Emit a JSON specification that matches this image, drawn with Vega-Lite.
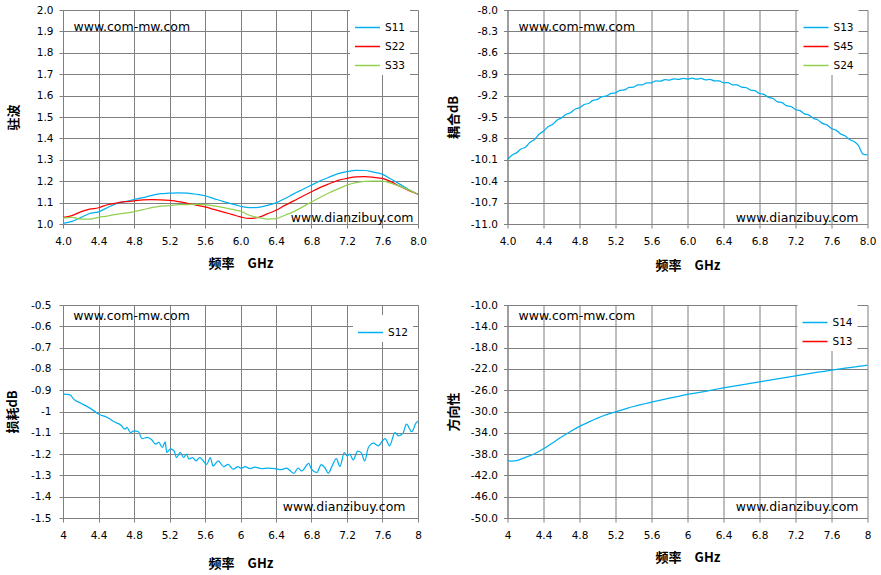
{
  "$schema": "https://vega.github.io/schema/vega-lite/v6.json",
  "background": "white",
  "padding": {"left": 6, "top": 5, "right": 0, "bottom": 0},
  "columns": 2,
  "spacing": {"row": 81, "column": 89.5},
  "bounds": "flush",
  "resolve": {
    "scale": {"x": "independent", "y": "independent", "color": "independent"},
    "legend": {"color": "independent"}
  },
  "datasets": {
    "vswr": [
      {"f": 4.0, "s": "S11", "v": 1.003}, {"f": 4.1, "s": "S11", "v": 1.012}, {"f": 4.2, "s": "S11", "v": 1.030}, {"f": 4.3, "s": "S11", "v": 1.049},
      {"f": 4.4, "s": "S11", "v": 1.057}, {"f": 4.5, "s": "S11", "v": 1.076}, {"f": 4.6, "s": "S11", "v": 1.095}, {"f": 4.7, "s": "S11", "v": 1.105},
      {"f": 4.8, "s": "S11", "v": 1.114}, {"f": 4.9, "s": "S11", "v": 1.123}, {"f": 5.0, "s": "S11", "v": 1.134}, {"f": 5.1, "s": "S11", "v": 1.142},
      {"f": 5.2, "s": "S11", "v": 1.144}, {"f": 5.3, "s": "S11", "v": 1.146}, {"f": 5.4, "s": "S11", "v": 1.144}, {"f": 5.5, "s": "S11", "v": 1.139},
      {"f": 5.6, "s": "S11", "v": 1.132}, {"f": 5.7, "s": "S11", "v": 1.119}, {"f": 5.8, "s": "S11", "v": 1.106}, {"f": 5.9, "s": "S11", "v": 1.094},
      {"f": 6.0, "s": "S11", "v": 1.083}, {"f": 6.1, "s": "S11", "v": 1.076}, {"f": 6.2, "s": "S11", "v": 1.078}, {"f": 6.3, "s": "S11", "v": 1.087},
      {"f": 6.4, "s": "S11", "v": 1.099}, {"f": 6.5, "s": "S11", "v": 1.119}, {"f": 6.6, "s": "S11", "v": 1.141}, {"f": 6.7, "s": "S11", "v": 1.161},
      {"f": 6.8, "s": "S11", "v": 1.182}, {"f": 6.9, "s": "S11", "v": 1.202}, {"f": 7.0, "s": "S11", "v": 1.219}, {"f": 7.1, "s": "S11", "v": 1.235},
      {"f": 7.2, "s": "S11", "v": 1.245}, {"f": 7.3, "s": "S11", "v": 1.251}, {"f": 7.4, "s": "S11", "v": 1.250}, {"f": 7.5, "s": "S11", "v": 1.242},
      {"f": 7.6, "s": "S11", "v": 1.232}, {"f": 7.7, "s": "S11", "v": 1.209}, {"f": 7.8, "s": "S11", "v": 1.185}, {"f": 7.9, "s": "S11", "v": 1.160},
      {"f": 8.0, "s": "S11", "v": 1.139},
      {"f": 4.0, "s": "S22", "v": 1.031}, {"f": 4.1, "s": "S22", "v": 1.039}, {"f": 4.2, "s": "S22", "v": 1.057}, {"f": 4.3, "s": "S22", "v": 1.069},
      {"f": 4.4, "s": "S22", "v": 1.076}, {"f": 4.5, "s": "S22", "v": 1.090}, {"f": 4.6, "s": "S22", "v": 1.098}, {"f": 4.7, "s": "S22", "v": 1.104},
      {"f": 4.8, "s": "S22", "v": 1.108}, {"f": 4.9, "s": "S22", "v": 1.113}, {"f": 5.0, "s": "S22", "v": 1.114}, {"f": 5.1, "s": "S22", "v": 1.113},
      {"f": 5.2, "s": "S22", "v": 1.110}, {"f": 5.3, "s": "S22", "v": 1.105}, {"f": 5.4, "s": "S22", "v": 1.097}, {"f": 5.5, "s": "S22", "v": 1.088},
      {"f": 5.6, "s": "S22", "v": 1.080}, {"f": 5.7, "s": "S22", "v": 1.068}, {"f": 5.8, "s": "S22", "v": 1.057}, {"f": 5.9, "s": "S22", "v": 1.045},
      {"f": 6.0, "s": "S22", "v": 1.033}, {"f": 6.1, "s": "S22", "v": 1.026}, {"f": 6.2, "s": "S22", "v": 1.031}, {"f": 6.3, "s": "S22", "v": 1.047},
      {"f": 6.4, "s": "S22", "v": 1.064}, {"f": 6.5, "s": "S22", "v": 1.087}, {"f": 6.6, "s": "S22", "v": 1.108}, {"f": 6.7, "s": "S22", "v": 1.130},
      {"f": 6.8, "s": "S22", "v": 1.151}, {"f": 6.9, "s": "S22", "v": 1.171}, {"f": 7.0, "s": "S22", "v": 1.188}, {"f": 7.1, "s": "S22", "v": 1.204},
      {"f": 7.2, "s": "S22", "v": 1.213}, {"f": 7.3, "s": "S22", "v": 1.220}, {"f": 7.4, "s": "S22", "v": 1.221}, {"f": 7.5, "s": "S22", "v": 1.218},
      {"f": 7.6, "s": "S22", "v": 1.213}, {"f": 7.7, "s": "S22", "v": 1.197}, {"f": 7.8, "s": "S22", "v": 1.175}, {"f": 7.9, "s": "S22", "v": 1.156},
      {"f": 8.0, "s": "S22", "v": 1.139},
      {"f": 4.0, "s": "S33", "v": 1.028}, {"f": 4.1, "s": "S33", "v": 1.031}, {"f": 4.2, "s": "S33", "v": 1.023}, {"f": 4.3, "s": "S33", "v": 1.023},
      {"f": 4.4, "s": "S33", "v": 1.031}, {"f": 4.5, "s": "S33", "v": 1.037}, {"f": 4.6, "s": "S33", "v": 1.045}, {"f": 4.7, "s": "S33", "v": 1.051},
      {"f": 4.8, "s": "S33", "v": 1.058}, {"f": 4.9, "s": "S33", "v": 1.067}, {"f": 5.0, "s": "S33", "v": 1.076}, {"f": 5.1, "s": "S33", "v": 1.084},
      {"f": 5.2, "s": "S33", "v": 1.086}, {"f": 5.3, "s": "S33", "v": 1.090}, {"f": 5.4, "s": "S33", "v": 1.091}, {"f": 5.5, "s": "S33", "v": 1.092},
      {"f": 5.6, "s": "S33", "v": 1.090}, {"f": 5.7, "s": "S33", "v": 1.085}, {"f": 5.8, "s": "S33", "v": 1.078}, {"f": 5.9, "s": "S33", "v": 1.069},
      {"f": 6.0, "s": "S33", "v": 1.060}, {"f": 6.1, "s": "S33", "v": 1.041}, {"f": 6.2, "s": "S33", "v": 1.030}, {"f": 6.3, "s": "S33", "v": 1.023},
      {"f": 6.4, "s": "S33", "v": 1.025}, {"f": 6.5, "s": "S33", "v": 1.041}, {"f": 6.6, "s": "S33", "v": 1.058}, {"f": 6.7, "s": "S33", "v": 1.080},
      {"f": 6.8, "s": "S33", "v": 1.103}, {"f": 6.9, "s": "S33", "v": 1.125}, {"f": 7.0, "s": "S33", "v": 1.146}, {"f": 7.1, "s": "S33", "v": 1.164},
      {"f": 7.2, "s": "S33", "v": 1.182}, {"f": 7.3, "s": "S33", "v": 1.193}, {"f": 7.4, "s": "S33", "v": 1.199}, {"f": 7.5, "s": "S33", "v": 1.200},
      {"f": 7.6, "s": "S33", "v": 1.200}, {"f": 7.7, "s": "S33", "v": 1.190}, {"f": 7.8, "s": "S33", "v": 1.176}, {"f": 7.9, "s": "S33", "v": 1.158},
      {"f": 8.0, "s": "S33", "v": 1.139}
    ],
    "coupling": [
      {"f": 4.0, "s": "S13", "v": -10.097}, {"f": 4.05, "s": "S13", "v": -10.035}, {"f": 4.1, "s": "S13", "v": -10.003}, {"f": 4.15, "s": "S13", "v": -9.949},
      {"f": 4.2, "s": "S13", "v": -9.924}, {"f": 4.25, "s": "S13", "v": -9.855}, {"f": 4.3, "s": "S13", "v": -9.816}, {"f": 4.35, "s": "S13", "v": -9.743},
      {"f": 4.4, "s": "S13", "v": -9.700}, {"f": 4.45, "s": "S13", "v": -9.638}, {"f": 4.5, "s": "S13", "v": -9.605}, {"f": 4.55, "s": "S13", "v": -9.544},
      {"f": 4.6, "s": "S13", "v": -9.512}, {"f": 4.65, "s": "S13", "v": -9.462}, {"f": 4.7, "s": "S13", "v": -9.441}, {"f": 4.75, "s": "S13", "v": -9.391},
      {"f": 4.8, "s": "S13", "v": -9.371}, {"f": 4.85, "s": "S13", "v": -9.326}, {"f": 4.9, "s": "S13", "v": -9.310}, {"f": 4.95, "s": "S13", "v": -9.267},
      {"f": 5.0, "s": "S13", "v": -9.254}, {"f": 5.05, "s": "S13", "v": -9.215}, {"f": 5.1, "s": "S13", "v": -9.205}, {"f": 5.15, "s": "S13", "v": -9.168},
      {"f": 5.2, "s": "S13", "v": -9.161}, {"f": 5.25, "s": "S13", "v": -9.126}, {"f": 5.3, "s": "S13", "v": -9.120}, {"f": 5.35, "s": "S13", "v": -9.086},
      {"f": 5.4, "s": "S13", "v": -9.081}, {"f": 5.45, "s": "S13", "v": -9.051}, {"f": 5.5, "s": "S13", "v": -9.050}, {"f": 5.55, "s": "S13", "v": -9.020},
      {"f": 5.6, "s": "S13", "v": -9.020}, {"f": 5.65, "s": "S13", "v": -8.994}, {"f": 5.7, "s": "S13", "v": -8.998}, {"f": 5.75, "s": "S13", "v": -8.976},
      {"f": 5.8, "s": "S13", "v": -8.983}, {"f": 5.85, "s": "S13", "v": -8.964}, {"f": 5.9, "s": "S13", "v": -8.974}, {"f": 5.95, "s": "S13", "v": -8.957},
      {"f": 6.0, "s": "S13", "v": -8.969}, {"f": 6.05, "s": "S13", "v": -8.955}, {"f": 6.1, "s": "S13", "v": -8.970}, {"f": 6.15, "s": "S13", "v": -8.959},
      {"f": 6.2, "s": "S13", "v": -8.978}, {"f": 6.25, "s": "S13", "v": -8.972}, {"f": 6.3, "s": "S13", "v": -8.995}, {"f": 6.35, "s": "S13", "v": -8.993},
      {"f": 6.4, "s": "S13", "v": -9.020}, {"f": 6.45, "s": "S13", "v": -9.019}, {"f": 6.5, "s": "S13", "v": -9.048}, {"f": 6.55, "s": "S13", "v": -9.050},
      {"f": 6.6, "s": "S13", "v": -9.081}, {"f": 6.65, "s": "S13", "v": -9.087}, {"f": 6.7, "s": "S13", "v": -9.122}, {"f": 6.75, "s": "S13", "v": -9.131},
      {"f": 6.8, "s": "S13", "v": -9.170}, {"f": 6.85, "s": "S13", "v": -9.183}, {"f": 6.9, "s": "S13", "v": -9.225}, {"f": 6.95, "s": "S13", "v": -9.241},
      {"f": 7.0, "s": "S13", "v": -9.287}, {"f": 7.05, "s": "S13", "v": -9.299}, {"f": 7.1, "s": "S13", "v": -9.340}, {"f": 7.15, "s": "S13", "v": -9.353},
      {"f": 7.2, "s": "S13", "v": -9.395}, {"f": 7.25, "s": "S13", "v": -9.411}, {"f": 7.3, "s": "S13", "v": -9.456}, {"f": 7.35, "s": "S13", "v": -9.474},
      {"f": 7.4, "s": "S13", "v": -9.521}, {"f": 7.45, "s": "S13", "v": -9.541}, {"f": 7.5, "s": "S13", "v": -9.590}, {"f": 7.55, "s": "S13", "v": -9.611},
      {"f": 7.6, "s": "S13", "v": -9.661}, {"f": 7.65, "s": "S13", "v": -9.684}, {"f": 7.7, "s": "S13", "v": -9.737}, {"f": 7.75, "s": "S13", "v": -9.762},
      {"f": 7.8, "s": "S13", "v": -9.816}, {"f": 7.85, "s": "S13", "v": -9.843}, {"f": 7.9, "s": "S13", "v": -9.900}, {"f": 7.95, "s": "S13", "v": -10.020},
      {"f": 8.0, "s": "S13", "v": -10.030}
    ],
    "loss": [
      {"f": 4.00, "s": "S12", "v": -0.918}, {"f": 4.08, "s": "S12", "v": -0.922}, {"f": 4.12, "s": "S12", "v": -0.942}, {"f": 4.20, "s": "S12", "v": -0.961},
      {"f": 4.27, "s": "S12", "v": -0.976}, {"f": 4.35, "s": "S12", "v": -0.997}, {"f": 4.40, "s": "S12", "v": -1.012}, {"f": 4.50, "s": "S12", "v": -1.028},
      {"f": 4.57, "s": "S12", "v": -1.047}, {"f": 4.65, "s": "S12", "v": -1.063}, {"f": 4.70, "s": "S12", "v": -1.083}, {"f": 4.72, "s": "S12", "v": -1.075},
      {"f": 4.76, "s": "S12", "v": -1.099}, {"f": 4.80, "s": "S12", "v": -1.091}, {"f": 4.85, "s": "S12", "v": -1.095}, {"f": 4.89, "s": "S12", "v": -1.127},
      {"f": 4.95, "s": "S12", "v": -1.122}, {"f": 5.00, "s": "S12", "v": -1.133}, {"f": 5.04, "s": "S12", "v": -1.153}, {"f": 5.08, "s": "S12", "v": -1.145},
      {"f": 5.12, "s": "S12", "v": -1.169}, {"f": 5.15, "s": "S12", "v": -1.143}, {"f": 5.17, "s": "S12", "v": -1.192}, {"f": 5.21, "s": "S12", "v": -1.176},
      {"f": 5.25, "s": "S12", "v": -1.184}, {"f": 5.28, "s": "S12", "v": -1.216}, {"f": 5.32, "s": "S12", "v": -1.192}, {"f": 5.36, "s": "S12", "v": -1.216},
      {"f": 5.39, "s": "S12", "v": -1.200}, {"f": 5.42, "s": "S12", "v": -1.224}, {"f": 5.46, "s": "S12", "v": -1.216}, {"f": 5.50, "s": "S12", "v": -1.232},
      {"f": 5.54, "s": "S12", "v": -1.216}, {"f": 5.62, "s": "S12", "v": -1.248}, {"f": 5.66, "s": "S12", "v": -1.216}, {"f": 5.69, "s": "S12", "v": -1.256},
      {"f": 5.75, "s": "S12", "v": -1.232}, {"f": 5.81, "s": "S12", "v": -1.259}, {"f": 5.86, "s": "S12", "v": -1.248}, {"f": 5.92, "s": "S12", "v": -1.271},
      {"f": 5.97, "s": "S12", "v": -1.259}, {"f": 6.01, "s": "S12", "v": -1.266}, {"f": 6.05, "s": "S12", "v": -1.259}, {"f": 6.11, "s": "S12", "v": -1.268},
      {"f": 6.16, "s": "S12", "v": -1.261}, {"f": 6.24, "s": "S12", "v": -1.268}, {"f": 6.31, "s": "S12", "v": -1.266}, {"f": 6.39, "s": "S12", "v": -1.268},
      {"f": 6.46, "s": "S12", "v": -1.273}, {"f": 6.52, "s": "S12", "v": -1.266}, {"f": 6.55, "s": "S12", "v": -1.275}, {"f": 6.60, "s": "S12", "v": -1.290},
      {"f": 6.65, "s": "S12", "v": -1.266}, {"f": 6.69, "s": "S12", "v": -1.279}, {"f": 6.77, "s": "S12", "v": -1.243}, {"f": 6.80, "s": "S12", "v": -1.271},
      {"f": 6.86, "s": "S12", "v": -1.287}, {"f": 6.91, "s": "S12", "v": -1.249}, {"f": 6.95, "s": "S12", "v": -1.263}, {"f": 6.99, "s": "S12", "v": -1.290},
      {"f": 7.03, "s": "S12", "v": -1.258}, {"f": 7.08, "s": "S12", "v": -1.221}, {"f": 7.12, "s": "S12", "v": -1.258}, {"f": 7.17, "s": "S12", "v": -1.193},
      {"f": 7.20, "s": "S12", "v": -1.208}, {"f": 7.23, "s": "S12", "v": -1.200}, {"f": 7.27, "s": "S12", "v": -1.227}, {"f": 7.32, "s": "S12", "v": -1.186},
      {"f": 7.36, "s": "S12", "v": -1.193}, {"f": 7.40, "s": "S12", "v": -1.232}, {"f": 7.44, "s": "S12", "v": -1.170}, {"f": 7.50, "s": "S12", "v": -1.149},
      {"f": 7.55, "s": "S12", "v": -1.161}, {"f": 7.63, "s": "S12", "v": -1.127}, {"f": 7.68, "s": "S12", "v": -1.161}, {"f": 7.74, "s": "S12", "v": -1.099},
      {"f": 7.78, "s": "S12", "v": -1.114}, {"f": 7.83, "s": "S12", "v": -1.103}, {"f": 7.87, "s": "S12", "v": -1.059}, {"f": 7.93, "s": "S12", "v": -1.095},
      {"f": 7.98, "s": "S12", "v": -1.052}, {"f": 8.00, "s": "S12", "v": -1.046}
    ],
    "directivity": [
      {"f": 4.0, "s": "S14", "v": -39.19}, {"f": 4.05, "s": "S14", "v": -39.31}, {"f": 4.1, "s": "S14", "v": -39.22}, {"f": 4.2, "s": "S14", "v": -38.6},
      {"f": 4.3, "s": "S14", "v": -37.94}, {"f": 4.4, "s": "S14", "v": -37.0}, {"f": 4.5, "s": "S14", "v": -35.9}, {"f": 4.6, "s": "S14", "v": -34.8},
      {"f": 4.7, "s": "S14", "v": -33.75}, {"f": 4.8, "s": "S14", "v": -32.8}, {"f": 4.9, "s": "S14", "v": -32.0}, {"f": 5.0, "s": "S14", "v": -31.25},
      {"f": 5.1, "s": "S14", "v": -30.6}, {"f": 5.2, "s": "S14", "v": -30.06}, {"f": 5.3, "s": "S14", "v": -29.55}, {"f": 5.4, "s": "S14", "v": -29.06},
      {"f": 5.5, "s": "S14", "v": -28.64}, {"f": 5.6, "s": "S14", "v": -28.25}, {"f": 5.7, "s": "S14", "v": -27.87}, {"f": 5.8, "s": "S14", "v": -27.5},
      {"f": 5.9, "s": "S14", "v": -27.14}, {"f": 6.0, "s": "S14", "v": -26.8}, {"f": 6.1, "s": "S14", "v": -26.5}, {"f": 6.2, "s": "S14", "v": -26.2},
      {"f": 6.3, "s": "S14", "v": -25.87}, {"f": 6.4, "s": "S14", "v": -25.56}, {"f": 6.5, "s": "S14", "v": -25.28}, {"f": 6.6, "s": "S14", "v": -25.0},
      {"f": 6.7, "s": "S14", "v": -24.72}, {"f": 6.8, "s": "S14", "v": -24.44}, {"f": 6.9, "s": "S14", "v": -24.16}, {"f": 7.0, "s": "S14", "v": -23.88},
      {"f": 7.1, "s": "S14", "v": -23.6}, {"f": 7.2, "s": "S14", "v": -23.31}, {"f": 7.3, "s": "S14", "v": -23.03}, {"f": 7.4, "s": "S14", "v": -22.75},
      {"f": 7.5, "s": "S14", "v": -22.5}, {"f": 7.6, "s": "S14", "v": -22.25}, {"f": 7.7, "s": "S14", "v": -22.0}, {"f": 7.8, "s": "S14", "v": -21.75},
      {"f": 7.9, "s": "S14", "v": -21.53}, {"f": 8.0, "s": "S14", "v": -21.31}
    ]
  },
  "concat": [
    {
      "width": 355,
      "height": 214,
      "resolve": {"axis": {"x": "independent", "y": "independent"}},
      "layer": [
        {
          "data": {"name": "vswr"},
          "mark": {"type": "line", "strokeWidth": 1.25, "interpolate": "monotone"},
          "encoding": {
            "x": {
              "field": "f", "type": "quantitative",
              "scale": {"domain": [4, 8], "nice": false, "zero": false},
              "axis": {"values": [4, 4.4, 4.8, 5.2, 5.6, 6, 6.4, 6.8, 7.2, 7.6, 8], "format": ".1f", "title": "频率　GHz", "titlePadding": 11}
            },
            "y": {
              "field": "v", "type": "quantitative",
              "scale": {"domain": [1, 2], "nice": false, "zero": false},
              "axis": {"values": [1, 1.1, 1.2, 1.3, 1.4, 1.5, 1.6, 1.7, 1.8, 1.9, 2], "format": ".1f", "title": "驻波", "titlePadding": 16}
            },
            "color": {
              "field": "s", "type": "nominal",
              "scale": {"domain": ["S11", "S22", "S33"], "range": ["#00B0F0", "#FF0000", "#92D050"]},
              "legend": {"title": null, "orient": "none", "legendX": 287, "legendY": 0}
            }
          }
        },
        {
          "data": {"values": [{"label": "www.com-mw.com"}]},
          "mark": {"type": "text", "align": "left", "baseline": "middle", "font": "DejaVu Sans", "fontSize": 12.5, "color": "#000"},
          "encoding": {
            "x": {"datum": 4.118, "type": "quantitative", "axis": null},
            "y": {"datum": 1.921, "type": "quantitative", "axis": null},
            "text": {"field": "label"}
          }
        },
        {
          "data": {"values": [{"label": "www.dianzibuy.com"}]},
          "mark": {"type": "text", "align": "right", "baseline": "middle", "font": "DejaVu Sans", "fontSize": 12.5, "color": "#000"},
          "encoding": {
            "x": {"datum": 7.949, "type": "quantitative", "axis": null},
            "y": {"datum": 1.027, "type": "quantitative", "axis": null},
            "text": {"field": "label"}
          }
        }
      ]
    },
    {
      "width": 360,
      "height": 214,
      "resolve": {"axis": {"x": "independent", "y": "independent"}},
      "layer": [
        {
          "data": {"name": "coupling"},
          "mark": {"type": "line", "strokeWidth": 1.25, "interpolate": "monotone"},
          "encoding": {
            "x": {
              "field": "f", "type": "quantitative",
              "scale": {"domain": [4, 8], "nice": false, "zero": false},
              "axis": {"values": [4, 4.4, 4.8, 5.2, 5.6, 6, 6.4, 6.8, 7.2, 7.6, 8], "format": ".1f", "title": "频率　GHz", "titlePadding": 13}
            },
            "y": {
              "field": "v", "type": "quantitative",
              "scale": {"domain": [-11, -8], "nice": false, "zero": false},
              "axis": {"values": [-8, -8.3, -8.6, -8.9, -9.2, -9.5, -9.8, -10.1, -10.4, -10.7, -11], "format": ".1f", "title": "耦合dB", "titlePadding": 10}
            },
            "color": {
              "field": "s", "type": "nominal",
              "scale": {"domain": ["S13", "S45", "S24"], "range": ["#00B0F0", "#FF0000", "#92D050"]},
              "legend": {"title": null, "orient": "none", "legendX": 291, "legendY": 0}
            }
          }
        },
        {
          "data": {"values": [{"label": "www.com-mw.com"}]},
          "mark": {"type": "text", "align": "left", "baseline": "middle", "font": "DejaVu Sans", "fontSize": 12.5, "color": "#000"},
          "encoding": {
            "x": {"datum": 4.122, "type": "quantitative", "axis": null},
            "y": {"datum": -8.238, "type": "quantitative", "axis": null},
            "text": {"field": "label"}
          }
        },
        {
          "data": {"values": [{"label": "www.dianzibuy.com"}]},
          "mark": {"type": "text", "align": "right", "baseline": "middle", "font": "DejaVu Sans", "fontSize": 12.5, "color": "#000"},
          "encoding": {
            "x": {"datum": 7.9, "type": "quantitative", "axis": null},
            "y": {"datum": -10.92, "type": "quantitative", "axis": null},
            "text": {"field": "label"}
          }
        }
      ]
    },
    {
      "width": 355,
      "height": 213,
      "resolve": {"axis": {"x": "independent", "y": "independent"}},
      "layer": [
        {
          "data": {"name": "loss"},
          "mark": {"type": "line", "strokeWidth": 1.25, "interpolate": "monotone"},
          "encoding": {
            "x": {
              "field": "f", "type": "quantitative",
              "scale": {"domain": [4, 8], "nice": false, "zero": false},
              "axis": {"values": [4, 4.4, 4.8, 5.2, 5.6, 6, 6.4, 6.8, 7.2, 7.6, 8], "format": "~g", "title": "频率　GHz", "titlePadding": 17}
            },
            "y": {
              "field": "v", "type": "quantitative",
              "scale": {"domain": [-1.5, -0.5], "nice": false, "zero": false},
              "axis": {"values": [-0.5, -0.6, -0.7, -0.8, -0.9, -1, -1.1, -1.2, -1.3, -1.4, -1.5], "format": "~g", "labelPadding": 8, "title": "损耗dB", "titlePadding": 11}
            },
            "color": {
              "field": "s", "type": "nominal",
              "scale": {"domain": ["S12"], "range": ["#00B0F0"]},
              "legend": {"title": null, "orient": "none", "legendX": 290, "legendY": 10}
            }
          }
        },
        {
          "data": {"values": [{"label": "www.com-mw.com"}]},
          "mark": {"type": "text", "align": "left", "baseline": "middle", "font": "DejaVu Sans", "fontSize": 12.5, "color": "#000"},
          "encoding": {
            "x": {"datum": 4.115, "type": "quantitative", "axis": null},
            "y": {"datum": -0.55, "type": "quantitative", "axis": null},
            "text": {"field": "label"}
          }
        },
        {
          "data": {"values": [{"label": "www.dianzibuy.com"}]},
          "mark": {"type": "text", "align": "right", "baseline": "middle", "font": "DejaVu Sans", "fontSize": 12.5, "color": "#000"},
          "encoding": {
            "x": {"datum": 7.859, "type": "quantitative", "axis": null},
            "y": {"datum": -1.45, "type": "quantitative", "axis": null},
            "text": {"field": "label"}
          }
        }
      ]
    },
    {
      "width": 360,
      "height": 213,
      "resolve": {"axis": {"x": "independent", "y": "independent"}},
      "layer": [
        {
          "data": {"name": "directivity"},
          "mark": {"type": "line", "strokeWidth": 1.25, "interpolate": "monotone"},
          "encoding": {
            "x": {
              "field": "f", "type": "quantitative",
              "scale": {"domain": [4, 8], "nice": false, "zero": false},
              "axis": {"values": [4, 4.4, 4.8, 5.2, 5.6, 6, 6.4, 6.8, 7.2, 7.6, 8], "format": "~g", "title": "频率　GHz", "titlePadding": 11}
            },
            "y": {
              "field": "v", "type": "quantitative",
              "scale": {"domain": [-50, -10], "nice": false, "zero": false},
              "axis": {"values": [-10, -14, -18, -22, -26, -30, -34, -38, -42, -46, -50], "format": ".1f", "title": "方向性", "titlePadding": 10}
            },
            "color": {
              "field": "s", "type": "nominal",
              "scale": {"domain": ["S14", "S13"], "range": ["#00B0F0", "#FF0000"]},
              "legend": {"title": null, "orient": "none", "legendX": 290, "legendY": 0}
            }
          }
        },
        {
          "data": {"values": [{"label": "www.com-mw.com"}]},
          "mark": {"type": "text", "align": "left", "baseline": "middle", "font": "DejaVu Sans", "fontSize": 12.5, "color": "#000"},
          "encoding": {
            "x": {"datum": 4.122, "type": "quantitative", "axis": null},
            "y": {"datum": -12.01, "type": "quantitative", "axis": null},
            "text": {"field": "label"}
          }
        },
        {
          "data": {"values": [{"label": "www.dianzibuy.com"}]},
          "mark": {"type": "text", "align": "right", "baseline": "middle", "font": "DejaVu Sans", "fontSize": 12.5, "color": "#000"},
          "encoding": {
            "x": {"datum": 7.9, "type": "quantitative", "axis": null},
            "y": {"datum": -47.99, "type": "quantitative", "axis": null},
            "text": {"field": "label"}
          }
        }
      ]
    }
  ],
  "config": {
    "locale": {
      "number": {"decimal": ".", "thousands": ",", "grouping": [3], "currency": ["", ""], "minus": "-"}
    },
    "view": {"stroke": null},
    "axis": {
      "grid": true,
      "gridColor": "#7f7f7f",
      "gridOpacity": 1,
      "gridWidth": 1,
      "domainColor": "#7f7f7f",
      "tickColor": "#7f7f7f",
      "tickSize": 4,
      "labelFont": "DejaVu Sans",
      "labelFontSize": 10.5,
      "labelColor": "#000",
      "labelPadding": 6,
      "labelFlush": false,
      "labelOverlap": false,
      "labelBound": false,
      "titleFont": "Noto Sans CJK SC",
      "titleFontSize": 13,
      "titleFontWeight": "bold",
      "titleColor": "#000"
    },
    "axisX": {"labelPadding": 8},
    "legend": {
      "fillColor": "#ffffff",
      "padding": 4,
      "rowPadding": 0,
      "symbolType": "stroke",
      "symbolSize": 625,
      "symbolStrokeWidth": 1.5,
      "labelFont": "DejaVu Sans",
      "labelFontSize": 10.5,
      "labelColor": "#000",
      "labelOffset": 4
    }
  }
}
